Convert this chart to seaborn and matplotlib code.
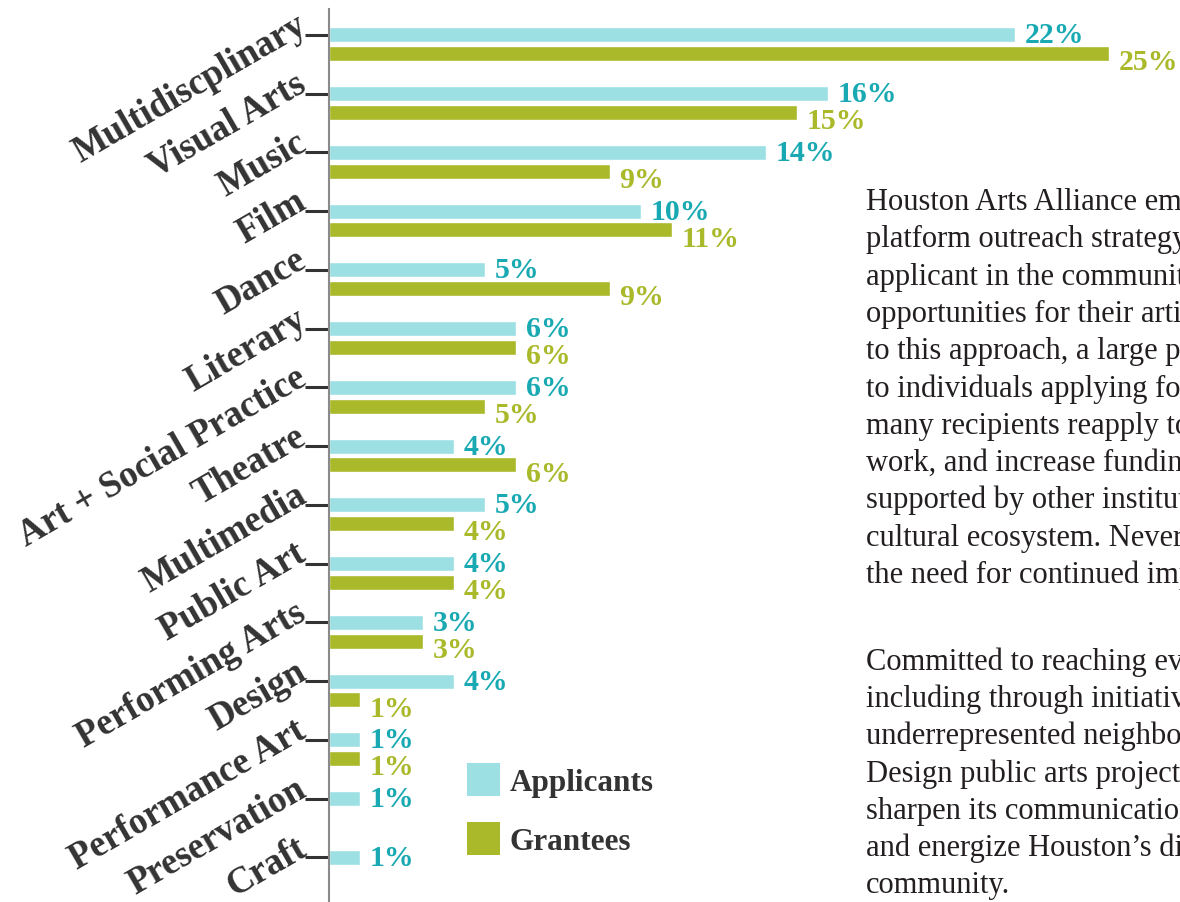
import numpy as np
import pandas as pd
import matplotlib
matplotlib.use("Agg")
import matplotlib.pyplot as plt
from matplotlib.patches import Patch
from matplotlib.transforms import ScaledTranslation
import seaborn as sns

# Share of applicants and grantees by artistic discipline (percent)
categories = ["Multidiscplinary", "Visual Arts", "Music", "Film", "Dance", "Literary",
              "Art + Social Practice", "Theatre", "Multimedia", "Public Art",
              "Performing Arts", "Design", "Performance Art", "Preservation", "Craft"]
applicants = [22, 16, 14, 10, 5, 6, 6, 4, 5, 4, 3, 4, 1, 1, 1]
grantees = [25, 15, 9, 11, 9, 6, 5, 6, 4, 4, 3, 1, 1, 0, 0]
series = ["Applicants", "Grantees"]

para1 = [
    "Houston Arts Alliance employs a multi-",
    "platform outreach strategy to reach every",
    "applicant in the community who may seek",
    "opportunities for their artistic practice. Due",
    "to this approach, a large portion of grants go",
    "to individuals applying for the first time, while",
    "many recipients reapply to continue, expand their",
    "work, and increase funding for projects not",
    "supported by other institutions in Houston\u2019s",
    "cultural ecosystem. Nevertheless, HAA recognizes",
    "the need for continued improvement.",
]
para2 = [
    "Committed to reaching every artist,",
    "including through initiatives in",
    "underrepresented neighborhoods and Civic Art +",
    "Design public arts projects, HAA seeks to",
    "sharpen its communications, reach new artists,",
    "and energize Houston\u2019s diverse creative",
    "community.",
]

bar_colors = ["#9ce0e4", "#a9b92a"]
label_colors = ["#18a9b2", "#a9b92a"]
ink = "#333333"
body_ink = "#231f20"

df = pd.DataFrame({
    "category": categories * 2,
    "share": applicants + grantees,
    "group": [series[0]] * len(categories) + [series[1]] * len(categories),
})

sns.set_theme(style="white")
plt.rcParams["font.family"] = ["Liberation Serif", "DejaVu Serif"]

W, H = 1180, 903
fig = plt.figure(figsize=(W / 100, H / 100), dpi=100)
ax = fig.add_axes([329 / W, 0, 851 / W, 1 - 10 / H])

slot = 0.646
sns.barplot(data=df, y="category", x="share", hue="group", order=categories,
            hue_order=series, palette=bar_colors, width=slot, gap=0.21,
            orient="h", ax=ax, legend=False, saturation=1)

# value labels: applicants sit on the bar's bottom edge, grantees drop slightly lower
values = [applicants, grantees]
for k, container in enumerate(ax.containers):
    for patch, value in zip(container.patches, values[k]):
        if value <= 0:
            continue
        y_edge = patch.get_y() + patch.get_height()
        ax.annotate(f"{value}%", xy=(patch.get_width(), y_edge),
                    xytext=(7, -5.8 * k), textcoords="offset points",
                    ha="left", va="baseline", fontsize=21.5, fontweight="bold",
                    color=label_colors[k], annotation_clip=False)

ax.set_yticks(np.arange(len(categories)) - slot / 4, labels=categories)
ax.set_ylim(len(categories) - 0.4, -0.6)
ax.set_xlim(0, 851 / 31.2)
ax.set_xticks([])
ax.set_xlabel("")
ax.set_ylabel("")
for side in ["top", "right", "bottom"]:
    ax.spines[side].set_visible(False)
ax.spines["left"].set_color("#8a8a8a")
ax.spines["left"].set_linewidth(1.5)
ax.tick_params(axis="y", left=True, length=17, width=2.2, color=ink, pad=1.5,
               labelsize=26.5, labelcolor=ink)
lift = ScaledTranslation(0, 9 / 72, fig.dpi_scale_trans)
for lbl in ax.get_yticklabels():
    lbl.set_rotation(30)
    lbl.set_rotation_mode("anchor")
    lbl.set_ha("right")
    lbl.set_va("center")
    lbl.set_fontweight("bold")
    lbl.set_transform(lbl.get_transform() + lift)

handles = [Patch(facecolor=c, edgecolor="none") for c in bar_colors]
leg = fig.legend(handles, series, loc="upper left",
                 bbox_to_anchor=(467 / W, 1 - 764 / H), frameon=False,
                 prop={"size": 22.5, "weight": "bold"},
                 handlelength=1.056, handleheight=1.248, handletextpad=0.3,
                 labelspacing=0.8, borderpad=0, borderaxespad=0)
for t in leg.get_texts():
    t.set_color(ink)

text_x = 866 / W
for i, line in enumerate(para1):
    fig.text(text_x, 1 - (210 + i * 37.3) / H, line, fontsize=22,
             color=body_ink, ha="left", va="baseline")
for i, line in enumerate(para2):
    fig.text(text_x, 1 - (670 + i * 37.2) / H, line, fontsize=22,
             color=body_ink, ha="left", va="baseline")

fig.savefig("out.png", dpi=100)
